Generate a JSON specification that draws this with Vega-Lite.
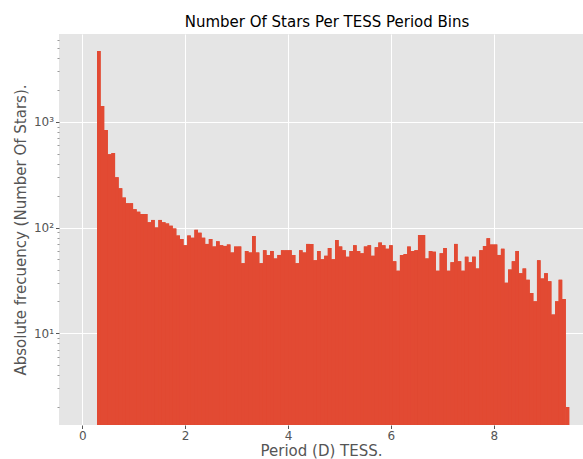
{
  "$schema": "https://vega.github.io/schema/vega-lite/v6.json",
  "width": 524,
  "height": 391,
  "autosize": "none",
  "padding": {"left": 59, "top": 34, "right": 0, "bottom": 34},
  "background": "white",
  "config": {
    "view": {"fill": "#E5E5E5", "stroke": null},
    "font": "DejaVu Sans"
  },
  "title": {
    "text": "Number Of Stars Per TESS Period Bins",
    "font": "DejaVu Sans",
    "fontSize": 15,
    "fontWeight": "normal",
    "color": "#000000",
    "offset": 4,
    "dx": 6
  },
  "data": {
    "values": [
      {"lo": 0.288, "hi": 0.358, "n": 4690},
      {"lo": 0.358, "hi": 0.428, "n": 1410},
      {"lo": 0.428, "hi": 0.498, "n": 840},
      {"lo": 0.498, "hi": 0.568, "n": 493},
      {"lo": 0.568, "hi": 0.639, "n": 508},
      {"lo": 0.639, "hi": 0.709, "n": 299},
      {"lo": 0.709, "hi": 0.779, "n": 235},
      {"lo": 0.779, "hi": 0.849, "n": 192},
      {"lo": 0.849, "hi": 0.919, "n": 170},
      {"lo": 0.919, "hi": 0.989, "n": 170},
      {"lo": 0.989, "hi": 1.059, "n": 149},
      {"lo": 1.059, "hi": 1.129, "n": 141},
      {"lo": 1.129, "hi": 1.199, "n": 134},
      {"lo": 1.199, "hi": 1.269, "n": 134},
      {"lo": 1.269, "hi": 1.340, "n": 112},
      {"lo": 1.340, "hi": 1.410, "n": 118},
      {"lo": 1.410, "hi": 1.480, "n": 100},
      {"lo": 1.480, "hi": 1.550, "n": 118},
      {"lo": 1.550, "hi": 1.620, "n": 112},
      {"lo": 1.620, "hi": 1.690, "n": 109},
      {"lo": 1.690, "hi": 1.760, "n": 104},
      {"lo": 1.760, "hi": 1.830, "n": 98},
      {"lo": 1.830, "hi": 1.900, "n": 84},
      {"lo": 1.900, "hi": 1.970, "n": 78},
      {"lo": 1.970, "hi": 2.041, "n": 68},
      {"lo": 2.041, "hi": 2.111, "n": 84},
      {"lo": 2.111, "hi": 2.181, "n": 80},
      {"lo": 2.181, "hi": 2.251, "n": 95},
      {"lo": 2.251, "hi": 2.321, "n": 89},
      {"lo": 2.321, "hi": 2.391, "n": 80},
      {"lo": 2.391, "hi": 2.461, "n": 70},
      {"lo": 2.461, "hi": 2.531, "n": 78},
      {"lo": 2.531, "hi": 2.601, "n": 66},
      {"lo": 2.601, "hi": 2.671, "n": 74},
      {"lo": 2.671, "hi": 2.742, "n": 68},
      {"lo": 2.742, "hi": 2.812, "n": 67},
      {"lo": 2.812, "hi": 2.882, "n": 69},
      {"lo": 2.882, "hi": 2.952, "n": 58},
      {"lo": 2.952, "hi": 3.022, "n": 66},
      {"lo": 3.022, "hi": 3.092, "n": 66},
      {"lo": 3.092, "hi": 3.162, "n": 46},
      {"lo": 3.162, "hi": 3.232, "n": 60},
      {"lo": 3.232, "hi": 3.302, "n": 58},
      {"lo": 3.302, "hi": 3.372, "n": 83},
      {"lo": 3.372, "hi": 3.443, "n": 58},
      {"lo": 3.443, "hi": 3.513, "n": 46},
      {"lo": 3.513, "hi": 3.583, "n": 61},
      {"lo": 3.583, "hi": 3.653, "n": 55},
      {"lo": 3.653, "hi": 3.723, "n": 60},
      {"lo": 3.723, "hi": 3.793, "n": 51},
      {"lo": 3.793, "hi": 3.863, "n": 55},
      {"lo": 3.863, "hi": 3.933, "n": 61},
      {"lo": 3.933, "hi": 4.003, "n": 61},
      {"lo": 4.003, "hi": 4.073, "n": 61},
      {"lo": 4.073, "hi": 4.144, "n": 55},
      {"lo": 4.144, "hi": 4.214, "n": 46},
      {"lo": 4.214, "hi": 4.284, "n": 61},
      {"lo": 4.284, "hi": 4.354, "n": 58},
      {"lo": 4.354, "hi": 4.424, "n": 70},
      {"lo": 4.424, "hi": 4.494, "n": 70},
      {"lo": 4.494, "hi": 4.564, "n": 49},
      {"lo": 4.564, "hi": 4.634, "n": 60},
      {"lo": 4.634, "hi": 4.704, "n": 50},
      {"lo": 4.704, "hi": 4.774, "n": 54},
      {"lo": 4.774, "hi": 4.845, "n": 64},
      {"lo": 4.845, "hi": 4.915, "n": 50},
      {"lo": 4.915, "hi": 4.985, "n": 76},
      {"lo": 4.985, "hi": 5.055, "n": 66},
      {"lo": 5.055, "hi": 5.125, "n": 61},
      {"lo": 5.125, "hi": 5.195, "n": 53},
      {"lo": 5.195, "hi": 5.265, "n": 60},
      {"lo": 5.265, "hi": 5.335, "n": 68},
      {"lo": 5.335, "hi": 5.405, "n": 60},
      {"lo": 5.405, "hi": 5.475, "n": 57},
      {"lo": 5.475, "hi": 5.546, "n": 66},
      {"lo": 5.546, "hi": 5.616, "n": 68},
      {"lo": 5.616, "hi": 5.686, "n": 54},
      {"lo": 5.686, "hi": 5.756, "n": 65},
      {"lo": 5.756, "hi": 5.826, "n": 72},
      {"lo": 5.826, "hi": 5.896, "n": 68},
      {"lo": 5.896, "hi": 5.966, "n": 63},
      {"lo": 5.966, "hi": 6.036, "n": 68},
      {"lo": 6.036, "hi": 6.106, "n": 48},
      {"lo": 6.106, "hi": 6.176, "n": 39},
      {"lo": 6.176, "hi": 6.247, "n": 55},
      {"lo": 6.247, "hi": 6.317, "n": 56},
      {"lo": 6.317, "hi": 6.387, "n": 66},
      {"lo": 6.387, "hi": 6.457, "n": 60},
      {"lo": 6.457, "hi": 6.527, "n": 61},
      {"lo": 6.527, "hi": 6.597, "n": 85},
      {"lo": 6.597, "hi": 6.667, "n": 85},
      {"lo": 6.667, "hi": 6.737, "n": 51},
      {"lo": 6.737, "hi": 6.807, "n": 60},
      {"lo": 6.807, "hi": 6.877, "n": 59},
      {"lo": 6.877, "hi": 6.948, "n": 39},
      {"lo": 6.948, "hi": 7.018, "n": 57},
      {"lo": 7.018, "hi": 7.088, "n": 64},
      {"lo": 7.088, "hi": 7.158, "n": 39},
      {"lo": 7.158, "hi": 7.228, "n": 47},
      {"lo": 7.228, "hi": 7.298, "n": 70},
      {"lo": 7.298, "hi": 7.368, "n": 48},
      {"lo": 7.368, "hi": 7.438, "n": 39},
      {"lo": 7.438, "hi": 7.508, "n": 53},
      {"lo": 7.508, "hi": 7.578, "n": 47},
      {"lo": 7.578, "hi": 7.649, "n": 53},
      {"lo": 7.649, "hi": 7.719, "n": 41},
      {"lo": 7.719, "hi": 7.789, "n": 61},
      {"lo": 7.789, "hi": 7.859, "n": 67},
      {"lo": 7.859, "hi": 7.929, "n": 79},
      {"lo": 7.929, "hi": 7.999, "n": 69},
      {"lo": 7.999, "hi": 8.069, "n": 69},
      {"lo": 8.069, "hi": 8.139, "n": 55},
      {"lo": 8.139, "hi": 8.209, "n": 63},
      {"lo": 8.209, "hi": 8.279, "n": 30},
      {"lo": 8.279, "hi": 8.350, "n": 40},
      {"lo": 8.350, "hi": 8.420, "n": 48},
      {"lo": 8.420, "hi": 8.490, "n": 60},
      {"lo": 8.490, "hi": 8.560, "n": 37},
      {"lo": 8.560, "hi": 8.630, "n": 41},
      {"lo": 8.630, "hi": 8.700, "n": 32},
      {"lo": 8.700, "hi": 8.770, "n": 24},
      {"lo": 8.770, "hi": 8.840, "n": 20},
      {"lo": 8.840, "hi": 8.910, "n": 49},
      {"lo": 8.910, "hi": 8.980, "n": 33},
      {"lo": 8.980, "hi": 9.051, "n": 37},
      {"lo": 9.051, "hi": 9.121, "n": 31},
      {"lo": 9.121, "hi": 9.191, "n": 15},
      {"lo": 9.191, "hi": 9.261, "n": 20},
      {"lo": 9.261, "hi": 9.331, "n": 32},
      {"lo": 9.331, "hi": 9.401, "n": 21},
      {"lo": 9.401, "hi": 9.471, "n": 2}
    ]
  },
  "layer": [
    {
      "mark": {"type": "area", "interpolate": "step-after", "color": "#E24A33", "opacity": 1, "clip": true},
      "encoding": {
        "x": {
          "field": "lo",
          "type": "quantitative",
          "scale": {"domain": [-0.451, 9.735], "nice": false, "zero": false},
          "axis": {
            "values": [0, 2, 4, 6, 8],
            "title": "Period (D) TESS.",
            "titleFont": "DejaVu Sans",
            "titleFontSize": 15,
            "titleFontWeight": "normal",
            "titleColor": "#555555",
            "titlePadding": 2,
            "labelFont": "DejaVu Sans",
            "labelFontSize": 12,
            "labelColor": "#555555",
            "labelPadding": 2,
            "tickColor": "#555555",
            "tickSize": 3.5,
            "tickWidth": 1,
            "domain": false,
            "grid": true,
            "gridColor": "#FFFFFF",
            "gridWidth": 1
          }
        },
        "y": {
          "field": "n",
          "type": "quantitative",
          "scale": {"type": "log", "domain": [1.351, 6790], "nice": false},
          "axis": {
            "orient": "left",
            "values": [10, 100, 1000],
            "labelExpr": "datum.value == 10 ? '10¹' : datum.value == 100 ? '10²' : '10³'",
            "title": "Absolute frecuency (Number Of Stars).",
            "titleFont": "DejaVu Sans",
            "titleFontSize": 15,
            "titleFontWeight": "normal",
            "titleColor": "#555555",
            "titlePadding": 5,
            "labelFont": "DejaVu Sans",
            "labelFontSize": 12,
            "labelColor": "#555555",
            "labelPadding": 2,
            "tickColor": "#555555",
            "tickSize": 3.5,
            "domain": false,
            "grid": true,
            "gridColor": "#FFFFFF",
            "gridWidth": 1
          }
        },
        "y2": {"datum": 1}
      }
    },
    {
      "mark": {"type": "rect", "color": "#E24A33", "opacity": 1, "clip": true},
      "encoding": {
        "x": {"field": "lo", "type": "quantitative"},
        "x2": {"field": "hi"},
        "y": {"field": "n", "type": "quantitative", "axis": null},
        "y2": {"datum": 1}
      }
    },
    {
      "mark": {"type": "tick", "opacity": 0},
      "encoding": {
        "y": {
          "field": "n",
          "type": "quantitative",
          "axis": {
            "orient": "left",
            "values": [2, 3, 4, 5, 6, 7, 8, 9, 20, 30, 40, 50, 60, 70, 80, 90, 200, 300, 400, 500, 600, 700, 800, 900, 2000, 3000, 4000, 5000, 6000],
            "labels": false,
            "title": null,
            "tickColor": "#555555",
            "tickSize": 2,
            "tickWidth": 0.6,
            "domain": false,
            "grid": false
          }
        }
      }
    }
  ],
  "resolve": {"axis": {"y": "independent"}}
}
